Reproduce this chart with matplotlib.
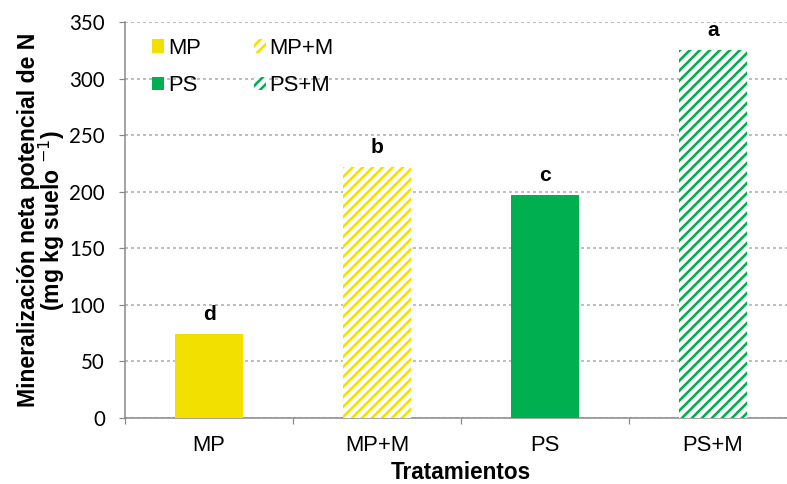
import matplotlib.pyplot as plt
from matplotlib.patches import Patch

plt.rcParams['font.family'] = ['Liberation Sans', 'DejaVu Sans']

DPI = 120
def px(v):
    # pixels -> points at the save dpi
    return v * 72 / DPI

plt.rcParams['hatch.linewidth'] = px(2.6)

tratamientos = ['MP', 'MP+M', 'PS', 'PS+M']
mineralizacion = [74, 222, 197, 325]
letras = ['d', 'b', 'c', 'a']
colores = ['#F2E100', '#F2E100', '#00B050', '#00B050']
rayado = [False, True, False, True]

fig = plt.figure(figsize=(787 / DPI, 484 / DPI), dpi=DPI)
ax = fig.add_axes([125/787, 66/484, 672/787, 396/484])

x = list(range(len(tratamientos)))
for xi, val, col, hat, let in zip(x, mineralizacion, colores, rayado, letras):
    if hat:
        ax.bar(xi, val, width=0.4, facecolor='white', edgecolor=col, hatch='////', linewidth=0, zorder=3)
    else:
        ax.bar(xi, val, width=0.4, color=col, linewidth=0, zorder=3)
    ax.text(xi, val + 9, let, ha='center', va='bottom', fontsize=px(21), fontweight='bold')

ax.set_xlim(-0.5, 3.5)
ax.set_ylim(0, 350)
ax.set_yticks(range(0, 351, 50))
ax.set_xticks(x)
ax.set_xticklabels(tratamientos, fontsize=px(22))
ax.set_xticks([-0.5, 0.5, 1.5, 2.5, 3.5], minor=True)
ax.tick_params(axis='x', which='major', length=0, pad=px(17))
ax.tick_params(axis='x', which='minor', length=px(6), width=px(1.2), color='#888888')
ax.tick_params(axis='y', length=px(6), width=px(1.2), color='#888888', labelsize=px(20.5), pad=px(14))
for lab in ax.get_yticklabels():
    lab.set_family('Lato')

ax.yaxis.grid(True, linestyle=(0, (2, 2)), color='#aaaaaa', linewidth=px(1.5), zorder=0)
ax.set_axisbelow(True)
for s in ('top', 'right'):
    ax.spines[s].set_visible(False)
for s in ('left', 'bottom'):
    ax.spines[s].set_color('#888888')
    ax.spines[s].set_linewidth(px(1.5))

ax.set_ylabel('Mineralización neta potencial de N\n(mg kg suelo $^{-1}$)', fontsize=px(23),
              fontweight='bold', labelpad=px(2), linespacing=0.88)
ax.set_xlabel('Tratamientos', fontsize=px(22.5), fontweight='bold', labelpad=px(5))

# legend fills column-wise, so order the entries to read MP, MP+M / PS, PS+M
orden = [0, 2, 1, 3]
handles = []
for i in orden:
    if rayado[i]:
        handles.append(Patch(facecolor='white', edgecolor=colores[i], hatch='////', linewidth=0))
    else:
        handles.append(Patch(facecolor=colores[i], linewidth=0))
ax.legend(handles, [tratamientos[i] for i in orden], ncol=2, loc='upper left',
          bbox_to_anchor=(0.04, 0.96), borderpad=0, borderaxespad=0,
          frameon=False, fontsize=px(22), handlelength=0.55, handleheight=0.55,
          handletextpad=0.18, columnspacing=2.4, labelspacing=0.75)

fig.savefig('out.png', dpi=DPI)
